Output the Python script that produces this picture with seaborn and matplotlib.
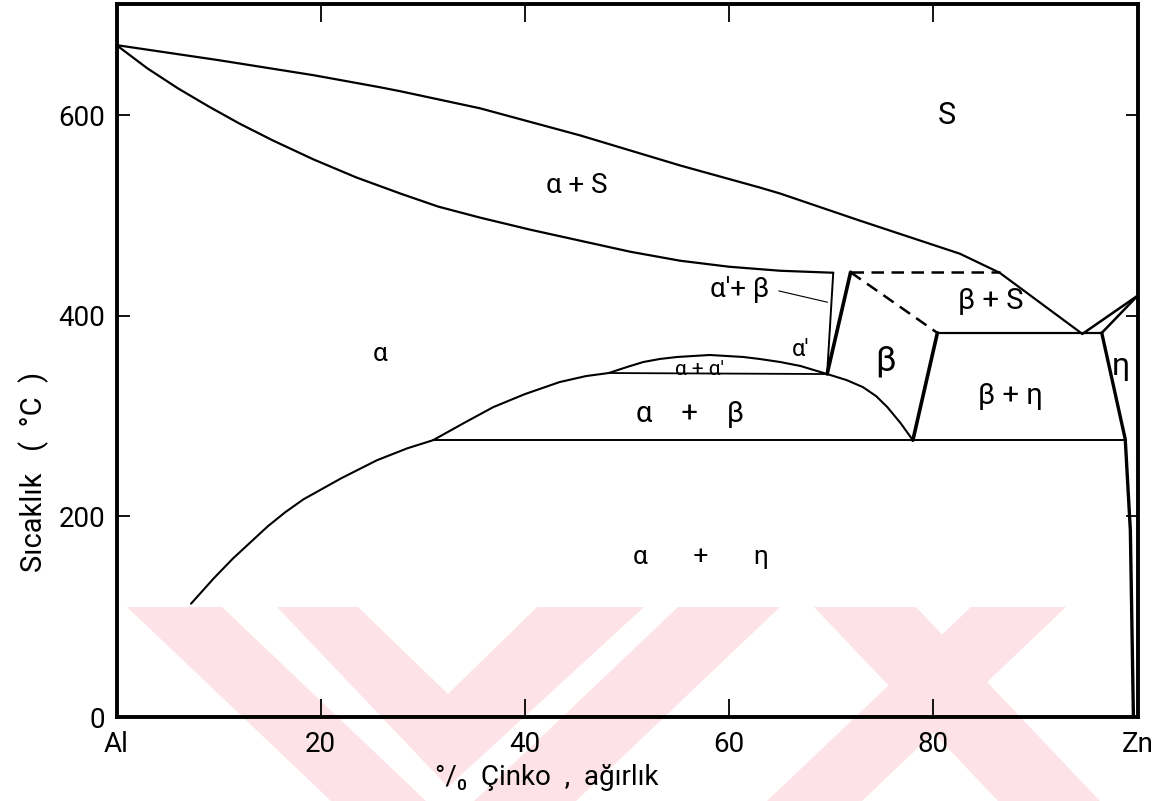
import numpy as np
import pandas as pd
import matplotlib
matplotlib.use("Agg")
import matplotlib.pyplot as plt
from matplotlib.patches import Polygon
import seaborn as sns

# --- Al-Zn phase boundaries (wt.% Zn, temperature in °C) ---
liquidus_x = [0, 10, 19.3, 25.8, 27.8, 35.6, 45.4, 55.2, 63, 65, 72.8, 82.6, 86.5, 94.6]
liquidus_y = [670, 655, 640, 628, 624, 607, 580, 550, 528, 522, 495, 462, 443, 382]

solidus_x = [0, 3, 6, 9, 12, 15.3, 19.3, 23.5, 27.8, 31.5, 35.6, 40.5, 45.4, 50.3, 55.2, 60, 65, 70.2]
solidus_y = [670, 647, 627, 609, 592, 575, 556, 538, 522, 509, 498, 486, 475, 464, 455, 449, 445, 443]

solvus_x = [7.3, 9.5, 11.4, 14.8, 16.5, 18.3, 22.0, 25.5, 28.5, 31.0, 34.0, 36.9, 40.0, 43.4, 46.0, 48.2]
solvus_y = [113, 138, 158, 190, 204, 217, 238, 256, 268, 276, 293, 309, 322, 334, 340, 343]

dome_x = [48.2, 50.0, 51.6, 53.2, 54.9, 58.1, 61.4, 63.0, 65.0, 67.0, 69.6]
dome_y = [343, 349, 354, 357, 359, 361, 359, 357, 354, 350, 342]

monotectoid_x = [48.2, 69.6]
monotectoid_y = [343, 342]

ab_right_x = [69.6, 71.5, 73.1, 74.4, 75.5, 76.8, 78.0]
ab_right_y = [342, 336, 329, 320, 309, 293, 276]

alpha_prime_x = [70.2, 69.6]
alpha_prime_y = [443, 342]

beta_left_x = [71.9, 69.6]
beta_left_y = [443.5, 342]

beta_right_x = [80.4, 78.0]
beta_right_y = [383, 276]

peritectic_x = [71.9, 86.5]
peritectic_y = [443.5, 443.5]

beta_liq_x = [71.9, 80.4]
beta_liq_y = [443.5, 383]

eutectic_x = [80.4, 96.5]
eutectic_y = [383, 383]

eutectoid_x = [31.0, 98.8]
eutectoid_y = [276, 276]

zn_liquidus_x = [94.6, 100]
zn_liquidus_y = [382, 420]

zn_solidus_x = [96.5, 100]
zn_solidus_y = [383, 420]

eta_solvus_x = [96.5, 98.8, 99.3, 99.6]
eta_solvus_y = [383, 277, 186, 0]

# region labels: (text, x, y, size)
region_text = ["S", "α + S", "α′+ β", "α", "α′", "α + α′", "β", "β + S",
               "β + η", "η", "α    +    β", "α       +       η"]
region_x = [81.3, 45.1, 61.0, 25.8, 67.0, 57.1, 75.3, 85.6, 87.5, 98.4, 56.2, 57.2]
region_y = [600, 530, 426, 362, 366, 347, 355, 415, 320, 350, 302, 160]
region_size = [22, 20, 20, 19, 17, 15, 25, 21, 21, 23, 21, 19]

xtick_pos = [0, 20, 40, 60, 80, 100]
xtick_lab = ["Al", "20", "40", "60", "80", "Zn"]
ytick_pos = [0, 200, 400, 600]
ytick_lab = ["0", "200", "400", "600"]

sns.set_theme(style="white")
plt.rcParams["font.family"] = ["Roboto", "DejaVu Sans"]
plt.rcParams["text.color"] = "black"
plt.rcParams["axes.labelcolor"] = "black"

W, H = 1161, 801
fig = plt.figure(figsize=(W / 100, H / 100), dpi=100)
ax = fig.add_axes([116.5 / W, 1 - 717 / H, 1021 / W, 713 / H])
ax.patch.set_alpha(0)

# pale background emblem
def px(points):
    return [(x / W, 1 - y / H) for x, y in points]

emblem = [
    [(127, 607), (222, 607), (426, 801), (331, 801)],
    [(277, 607), (358, 607), (448, 694), (537, 607), (644, 607), (448, 787)],
    [(678, 607), (780, 607), (576, 801), (474, 801)],
    [(814, 607), (916, 607), (1100, 801), (998, 801)],
    [(971, 607), (1066, 607), (862, 801), (767, 801)],
]
for poly in emblem:
    fig.add_artist(Polygon(px(poly), closed=True, transform=fig.transFigure,
                           facecolor="#fde3e8", edgecolor="none", zorder=-5))


def curve(xs, ys, lw=1.6, ls="-"):
    df = pd.DataFrame({"x": xs, "y": ys})
    sns.lineplot(data=df, x="x", y="y", sort=False, estimator=None,
                 color="black", linewidth=lw, linestyle=ls, ax=ax)


curve(liquidus_x, liquidus_y, 1.6)
curve(solidus_x, solidus_y, 1.6)
curve(solvus_x, solvus_y, 1.5)
curve(dome_x, dome_y, 1.5)
curve(monotectoid_x, monotectoid_y, 1.3)
curve(ab_right_x, ab_right_y, 1.5)
curve(alpha_prime_x, alpha_prime_y, 1.4)
curve(beta_left_x, beta_left_y, 2.6)
curve(beta_right_x, beta_right_y, 2.6)
curve(peritectic_x, peritectic_y, 1.8, (0, (5, 3)))
curve(beta_liq_x, beta_liq_y, 1.8, (0, (5, 3)))
curve(eutectic_x, eutectic_y, 1.6)
curve(eutectoid_x, eutectoid_y, 1.4)
curve(zn_liquidus_x, zn_liquidus_y, 1.8)
curve(zn_solidus_x, zn_solidus_y, 1.8)
curve(eta_solvus_x, eta_solvus_y, 2.4)

for t, x, y, s in zip(region_text, region_x, region_y, region_size):
    ax.text(x, y, t, fontsize=s, ha="center", va="center", color="black")

# leader from the α′+β label to its narrow field
ax.annotate("", xy=(69.9, 413), xytext=(64.6, 425.5),
            arrowprops=dict(arrowstyle="-", color="black", lw=0.8))

ax.set_xlim(0, 100)
ax.set_ylim(0, 711)
ax.set_xticks(xtick_pos)
ax.set_xticklabels(xtick_lab)
ax.set_yticks(ytick_pos)
ax.set_yticklabels(ytick_lab)
ax.tick_params(axis="x", direction="in", length=13, width=1.3, top=True,
               bottom=True, labelsize=20, pad=10, colors="black")
ax.tick_params(axis="y", direction="in", length=9, width=1.3, left=True,
               right=True, labelsize=20, pad=8, colors="black")
for sp in ax.spines.values():
    sp.set_visible(True)
    sp.set_color("black")
    sp.set_linewidth(2.8)

ax.set_xlabel("°/₀  Çinko  ,  ağırlık", fontsize=20, color="black", va="top")
ax.set_ylabel("Sıcaklık   (  °C  )", fontsize=21, color="black")
ax.xaxis.set_label_coords(0.421, -0.066)
ax.yaxis.set_label_coords(-0.066, 0.344)
ax.grid(False)

fig.savefig("out.png", dpi=100, facecolor="white")
